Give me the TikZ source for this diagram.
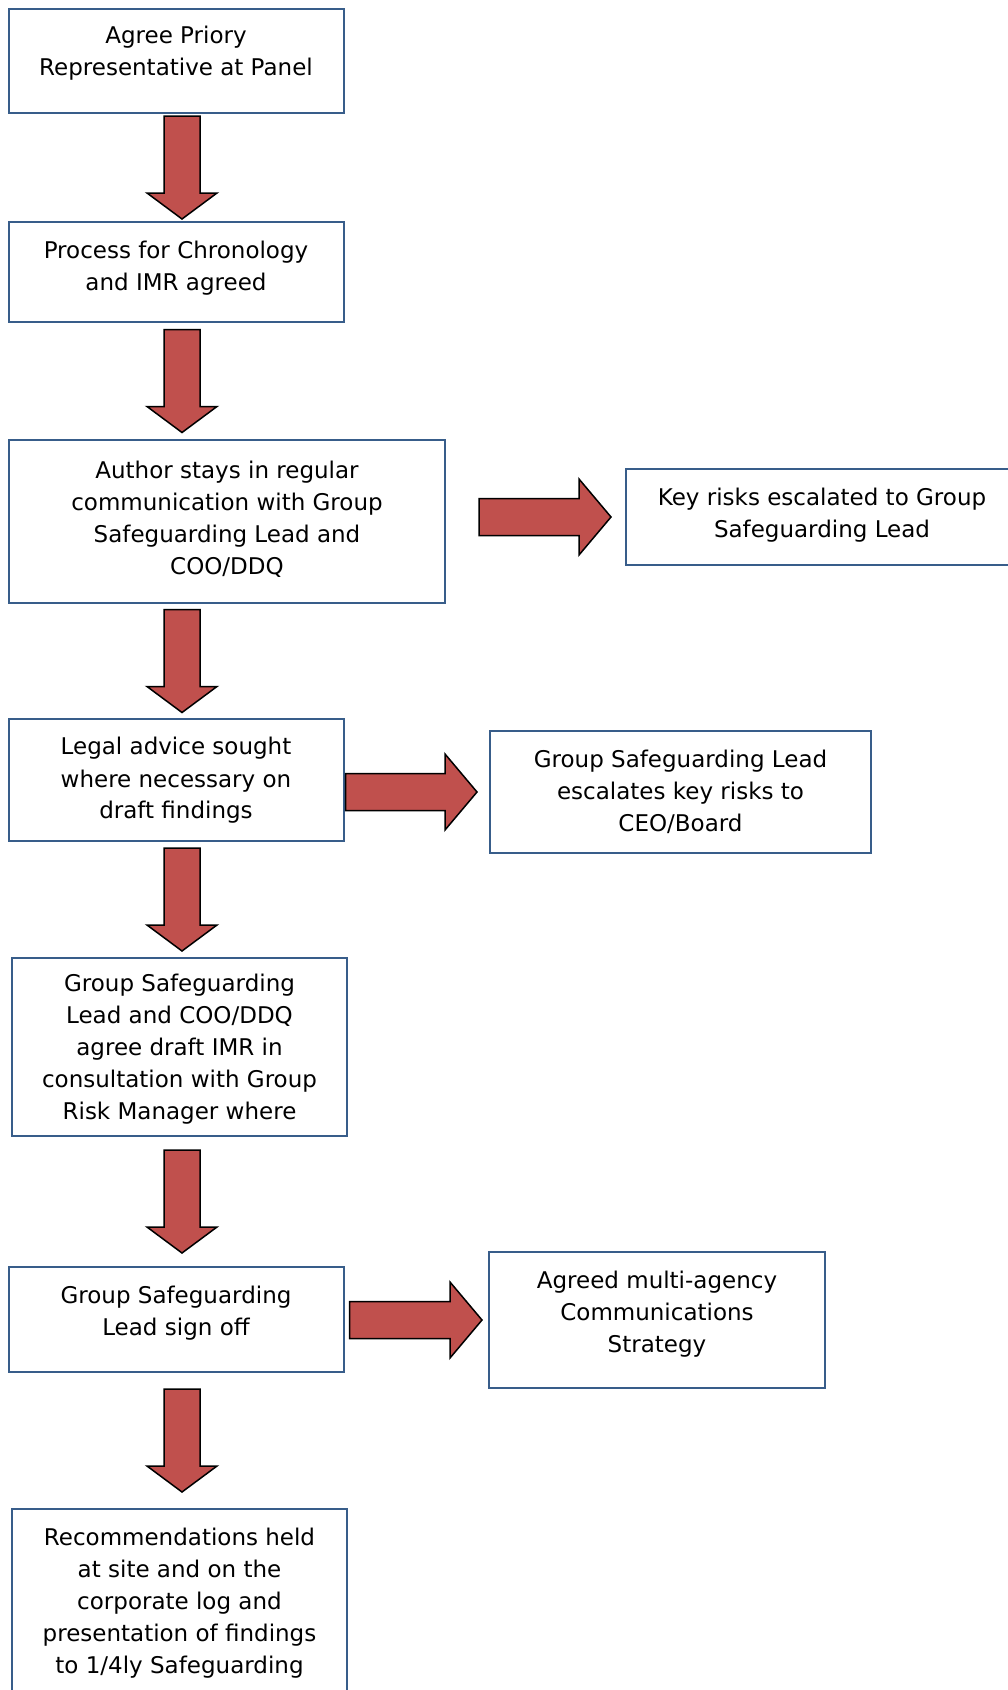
\documentclass[tikz,border=0pt]{standalone}
\usepackage{fontspec}
\setmainfont{DejaVu Sans}
\usetikzlibrary{calc}

\definecolor{arrowred}{HTML}{C0504D}
\definecolor{boxblue}{HTML}{385D8A}

\newcommand{\downblock}[2]{%
	\filldraw[blockarrow] let \p1=($(#1.south)!0.5!(#2.north)$) in
		(164pt,\y1+51.5pt) -- (200pt,\y1+51.5pt) -- (200pt,\y1-25.5pt) -- (217pt,\y1-25.5pt)
		-- (182pt,\y1-51.5pt) -- (147pt,\y1-25.5pt) -- (164pt,\y1-25.5pt) -- cycle;}
\newcommand{\rightblock}[4]{%
	\filldraw[blockarrow] let \p1=(#1.east), \p2=(#2.west) in
		(\x1+#3,\y2+18.5pt) -- (\x2-#4-32pt,\y2+18.5pt) -- (\x2-#4-32pt,\y2+38pt)
		-- (\x2-#4,\y2) -- (\x2-#4-32pt,\y2-38pt) -- (\x2-#4-32pt,\y2-18.5pt) -- (\x1+#3,\y2-18.5pt) -- cycle;}

\begin{document}
\begin{tikzpicture}[x=1pt,y=-1pt]
				\tikzstyle{flowbox}=[draw=boxblue,line width=2pt,fill=white,align=center,
				inner sep=0pt,font=\fontsize{23}{32}\selectfont]
				\tikzstyle{blockarrow}=[draw=black,fill=arrowred,line width=1.5pt,line join=miter]
				\clip (0,0) rectangle (1008,1690);
				\fill[white] (0,0) rectangle (1008,1690);
				\node[flowbox,minimum width=335pt,minimum height=104pt,text depth=19.5pt] (agree) at (176,61)
					{Agree Priory\\Representative at Panel};
				\node[flowbox,minimum width=335pt,minimum height=100pt,text depth=11.5pt] (process) at (176,272)
					{Process for Chronology\\and IMR agreed};
				\node[flowbox,minimum width=436pt,minimum height=163pt,text depth=7pt] (author) at (227,521.5)
					{Author stays in regular\\communication with Group\\Safeguarding Lead and\\COO/DDQ};
				\node[flowbox,minimum width=392pt,minimum height=96pt,text depth=7.5pt] (keyrisks) at (822,517)
					{Key risks escalated to Group\\Safeguarding Lead};
				\node[flowbox,minimum width=335pt,minimum height=122pt,text depth=3.5pt] (legal) at (176,780)
					{Legal advice sought\\where necessary on\\draft findings};
				\node[flowbox,minimum width=381pt,minimum height=122pt] (escalate) at (680.5,792)
					{Group Safeguarding Lead\\escalates key risks to\\CEO/Board};
				\node[flowbox,minimum width=335pt,minimum height=178pt,text depth=-8.6pt] (draftimr) at (179.5,1047)
					{Group Safeguarding\\Lead and COO/DDQ\\agree draft IMR in\\consultation with Group\\Risk Manager where};
				\node[flowbox,minimum width=335pt,minimum height=105pt,text depth=18.5pt] (signoff) at (176,1319.5)
					{Group Safeguarding\\Lead sign off};
				\node[flowbox,minimum width=336pt,minimum height=136pt,text depth=16.5pt] (comms) at (657,1320)
					{Agreed multi-agency\\Communications\\Strategy};
				\node[flowbox,minimum width=335pt,minimum height=186pt,text depth=2.5pt] (recs) at (179.5,1602)
					{Recommendations held\\at site and on the\\corporate log and\\presentation of findings\\to 1/4ly Safeguarding};
				\downblock{agree}{process}
				\downblock{process}{author}
				\downblock{author}{legal}
				\downblock{legal}{draftimr}
				\downblock{draftimr}{signoff}
				\downblock{signoff}{recs}
				\rightblock{author}{keyrisks}{33pt}{14pt}
				\rightblock{legal}{escalate}{1pt}{12pt}
				\rightblock{signoff}{comms}{5pt}{6pt}
\end{tikzpicture}
\end{document}
